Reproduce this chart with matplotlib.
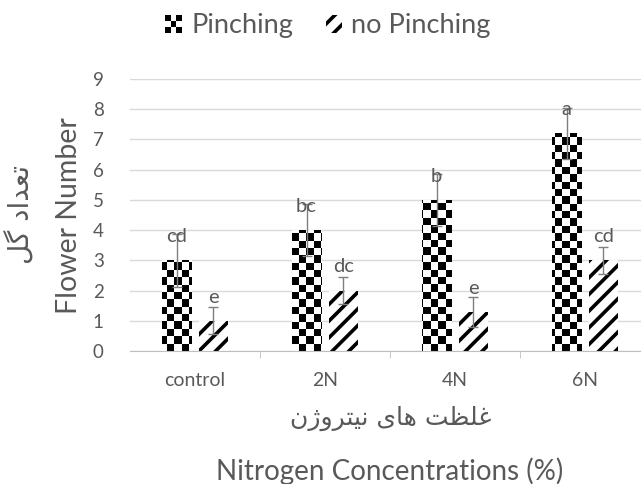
import numpy as np
import matplotlib
matplotlib.use("Agg")
import matplotlib.pyplot as plt
from matplotlib.patches import Rectangle, Patch
from matplotlib.legend_handler import HandlerBase

plt.rcParams['font.family'] = ['Lato', 'DejaVu Sans']
plt.rcParams['hatch.linewidth'] = 2.6

categories = ["control", "2N", "4N", "6N"]
pinching = [3.0, 4.0, 5.0, 7.2]
no_pinching = [1.0, 2.0, 1.3, 3.0]
pinching_err = [0.87, 0.87, 0.85, 0.85]
no_pinching_err = [0.45, 0.45, 0.5, 0.45]
pinching_letters = ["cd", "bc", "b", "a"]
no_pinching_letters = ["e", "dc", "e", "cd"]

# persian labels, pre-shaped presentation forms in visual (left to right) order
ylabel_fa = "".join(chr(c) for c in [0xFEDE, 0xFB94, 0x20, 0xFEA9, 0xFE8D, 0xFEAA, 0xFECC, 0xFE97])
xlabel_fa = "".join(chr(c) for c in [0xFEE5, 0xFB8A, 0xFEED, 0xFEAE, 0xFE98, 0xFBFF, 0xFEE7, 0x20,
                                     0xFBFC, 0xFE8E, 0xFEEB, 0x20,
                                     0xFE96, 0xFEC8, 0xFEE0, 0xFECF])

gray = "#595959"
W, H = 641, 484
fig = plt.figure(figsize=(W / 100, H / 100), dpi=100)
ax = fig.add_axes([130 / W, (H - 351) / H, 520 / W, 272 / H])

x = np.arange(len(categories))
bw = 0.227
off = 0.142

b1 = ax.bar(x - off, pinching, bw, color="white", edgecolor="none", zorder=2)
b2 = ax.bar(x + off, no_pinching, bw, color="white", edgecolor="black", linewidth=0,
            hatch="//", zorder=2)

# checkerboard fill for the pinching bars
cell = 7.3
nx = int(round(520 / cell))
ny = int(round(272 / cell))
ii, jj = np.meshgrid(np.arange(nx), np.arange(ny))
checker = (ii + jj) % 2
for r in b1:
    im = ax.imshow(checker, cmap="binary", extent=(-0.5, 3.5, 0, 9), aspect="auto",
                   interpolation="nearest", zorder=2.5)
    im.set_clip_path(r)

ax.errorbar(x - off, pinching, yerr=pinching_err, fmt="none", ecolor="#7f7f7f",
            elinewidth=1, capsize=3.5, zorder=3)
ax.errorbar(x + off, no_pinching, yerr=no_pinching_err, fmt="none", ecolor="#7f7f7f",
            elinewidth=1, capsize=3.5, zorder=3)

for xi, v, t in zip(x - off, pinching, pinching_letters):
    ax.annotate(t, (xi, v), xytext=(0, 13), textcoords="offset points", ha="center",
                va="baseline", fontsize=14.5, color=gray, zorder=4)
for xi, v, t in zip(x + off, no_pinching, no_pinching_letters):
    ax.annotate(t, (xi, v), xytext=(0, 13), textcoords="offset points", ha="center",
                va="baseline", fontsize=14.5, color=gray, zorder=4)

ax.set_xlim(-0.5, 3.5)
ax.set_ylim(0, 9)
ax.set_yticks(range(10))
ax.yaxis.grid(True, color="#d9d9d9", linewidth=1)
ax.set_axisbelow(True)
for s in ["top", "right", "left"]:
    ax.spines[s].set_visible(False)
ax.spines["bottom"].set_color("#bfbfbf")
ax.tick_params(axis="y", length=0, pad=19, labelsize=13.5, labelcolor=gray)
ax.set_xticks(x)
ax.set_xticklabels(categories)
ax.set_xticks(np.arange(0.5, 3.5, 1), minor=True)
ax.tick_params(axis="x", which="major", length=0, pad=15, labelsize=14, labelcolor=gray)
ax.tick_params(axis="x", which="minor", length=5, color="#bfbfbf")

fig.text(20 / W, 1 - 215 / H, ylabel_fa, rotation=90, ha="center", va="center",
         fontsize=20, color=gray, family=["DejaVu Sans"])
fig.text(69 / W, 1 - 216 / H, "Flower Number", rotation=90, ha="center", va="center",
         fontsize=20.5, color=gray)
fig.text(391 / W, 1 - 418 / H, xlabel_fa, ha="center", va="center",
         fontsize=18, color=gray, family=["DejaVu Sans"])
fig.text(390 / W, 1 - 480 / H, "Nitrogen Concentrations (%)", ha="center", va="baseline",
         fontsize=20, color=gray)


class CheckerHandler(HandlerBase):
    def create_artists(self, legend, orig_handle, xdescent, ydescent, width, height,
                       fontsize, trans):
        n = 3
        s = height / n
        x0 = -xdescent + (width - height) / 2
        arts = []
        for i in range(n):
            for j in range(n):
                if (i + j) % 2 == 0:
                    arts.append(Rectangle((x0 + i * s, -ydescent + j * s), s, s,
                                          facecolor="black", edgecolor="none", transform=trans))
        return arts


h1 = Patch(facecolor="white", edgecolor="none")
h2 = Patch(facecolor="white", edgecolor="black", linewidth=0, hatch="//")
fig.legend([h1, h2], ["Pinching", "no Pinching"], loc="center", bbox_to_anchor=(328 / W, 1 - 26 / H),
           ncol=2, frameon=False, fontsize=19.5, labelcolor=gray, handlelength=0.6,
           handleheight=0.6, handletextpad=0.35, columnspacing=1.2, borderpad=0,
           handler_map={h1: CheckerHandler()})

fig.savefig("out.png", dpi=100)
